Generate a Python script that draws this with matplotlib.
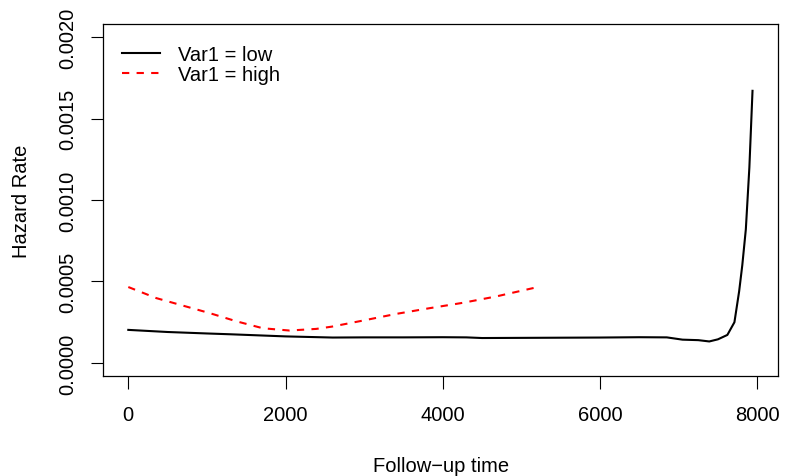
import matplotlib.pyplot as plt
import numpy as np

plt.rcParams['font.family'] = ['Liberation Sans', 'DejaVu Sans']

# hazard estimates
t_low = [0, 500, 1000, 1300, 2000, 2600, 3000, 3500, 4000, 4300, 4500, 5000, 5500, 6000,
         6500, 6850, 7050, 7250, 7390, 7500, 7620, 7710, 7770, 7810, 7855, 7900, 7940]
h_low = [0.000203, 0.000190, 0.000181, 0.000176, 0.000163, 0.000156, 0.000157, 0.000157,
         0.000158, 0.000157, 0.000153, 0.000154, 0.000155, 0.000156, 0.000158, 0.000157,
         0.000143, 0.000140, 0.000132, 0.000145, 0.000172, 0.00025, 0.00044, 0.00060,
         0.00082, 0.00120, 0.00167]

t_high = [0, 356, 694, 1034, 1373, 1711, 2050, 2390, 2590, 2983, 3407, 3830, 4254, 4678, 5210]
h_high = [0.000466, 0.000398, 0.000352, 0.000306, 0.000256, 0.000213, 0.000199, 0.000209,
          0.000223, 0.000260, 0.000301, 0.000336, 0.000369, 0.000408, 0.000466]

fig = plt.figure(figsize=(7.85, 4.77), dpi=100)
ax = fig.add_axes([103.3 / 785, 100 / 477, 675 / 785, 352 / 477])

ax.plot(t_low, h_low, color='black', lw=1.5, label='Var1 = low')
ax.plot(t_high, h_high, color='red', lw=1.5, dashes=(3.5, 3.5), label='Var1 = high')

ax.set_xlim(-318, 8268)
ax.set_ylim(-0.00008, 0.00208)
ax.set_xticks([0, 2000, 4000, 6000, 8000])
ax.set_xticklabels(['0', '2000', '4000', '6000', '8000'])
yt = [0, 0.0005, 0.001, 0.0015, 0.002]
ax.set_yticks(yt)
ax.set_yticklabels(['%.4f' % v for v in yt], rotation=90, va='center')
ax.tick_params(direction='out', length=9, width=0.8, labelsize=14.5)
ax.tick_params(axis='x', pad=12)
ax.tick_params(axis='y', pad=10)
for s in ax.spines.values():
    s.set_linewidth(0.9)

ax.set_xlabel('Follow\u2212up time', fontsize=14.5, va='center')
ax.xaxis.set_label_coords(0.5, -0.254)
ax.set_ylabel('Hazard Rate', fontsize=14.5, va='center')
ax.yaxis.set_label_coords(-0.1215, 0.5)

ax.legend(loc='upper left', frameon=False, fontsize=14.5, handlelength=1.9,
          handletextpad=0.88, borderaxespad=0, borderpad=0, labelspacing=0.05,
          bbox_to_anchor=(18.4 / 675, 0.94))

fig.savefig('out.png', dpi=100)
